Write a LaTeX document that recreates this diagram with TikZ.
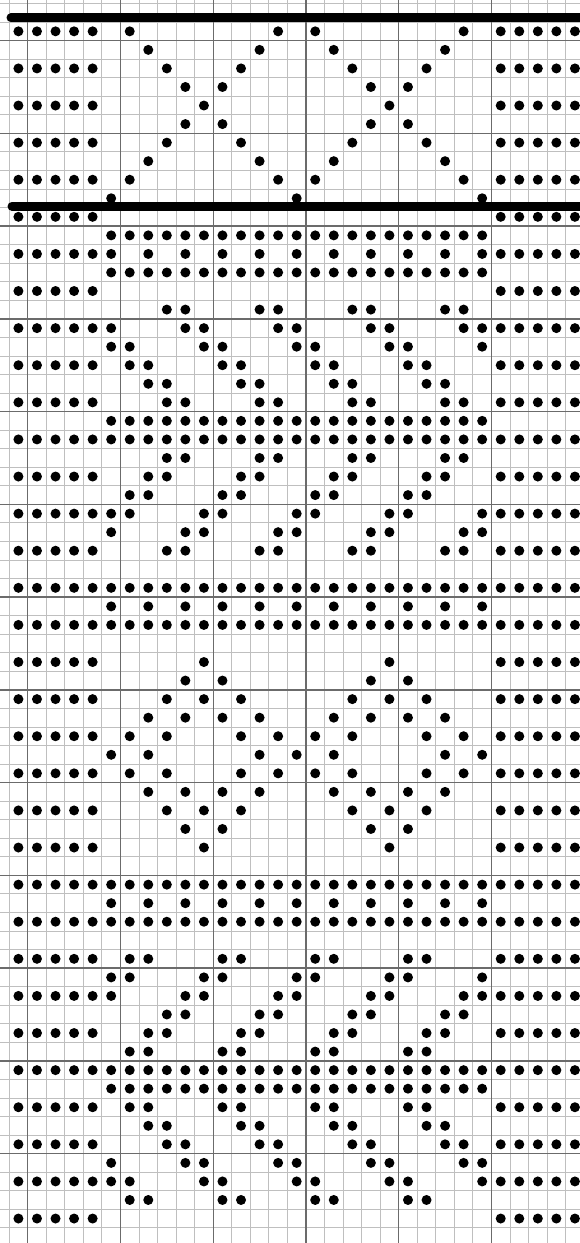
\documentclass[tikz,border=0pt]{standalone}
\begin{document}
\begin{tikzpicture}[x=1pt,y=-1pt]
\tikzset{fine/.style={draw=black!25,line width=0.9pt},
         major/.style={draw=black!58,line width=1.4pt},
         bar/.style={line width=9pt,line cap=round}}
\newcommand\drow[2]{\foreach \c in {#2}{\fill ({9.15+(\c+0.5)*18.55},{3.5+(#1+0.5)*18.55}) circle (5pt);}}
\fill[white] (0,0) rectangle (580,1243);
\useasboundingbox (0,0) rectangle (580,1243);
% fine grid
\foreach \j in {0,...,31}{\draw[fine] ({9.15+\j*18.55},0) -- ({9.15+\j*18.55},1243);}
\foreach \i in {0,...,67}{\draw[fine] (0,{3.5+\i*18.55}) -- (580,{3.5+\i*18.55});}
% major grid
\foreach \k in {0,...,5}{\draw[major] ({27.7+\k*92.75},0) -- ({27.7+\k*92.75},1243);}
\foreach \k in {0,...,12}{\draw[major] (0,{40.6+\k*92.75}) -- (580,{40.6+\k*92.75});}
% side borders
\foreach \r in {1,3,...,65}{\drow{\r}{0,1,2,3,4,26,27,28,29,30}}
% centre
\drow{1}{6,14,16,24}
\drow{2}{7,13,17,23}
\drow{3}{8,12,18,22}
\drow{4}{9,11,19,21}
\drow{5}{10,20}
\drow{6}{9,11,19,21}
\drow{7}{8,12,18,22}
\drow{8}{7,13,17,23}
\drow{9}{6,14,16,24}
\drow{10}{5,15,25}
\drow{12}{5,...,25}
\drow{13}{5,7,...,25}
\drow{14}{5,...,25}
\drow{16}{8,9,13,14,18,19,23,24}
\drow{17}{5,9,10,14,15,19,20,24,25}
\drow{18}{5,6,10,11,15,16,20,21,25}
\drow{19}{6,7,11,12,16,17,21,22}
\drow{20}{7,8,12,13,17,18,22,23}
\drow{21}{8,9,13,14,18,19,23,24}
\drow{22}{5,...,25}
\drow{23}{5,...,25}
\drow{24}{8,9,13,14,18,19,23,24}
\drow{25}{7,8,12,13,17,18,22,23}
\drow{26}{6,7,11,12,16,17,21,22}
\drow{27}{5,6,10,11,15,16,20,21,25}
\drow{28}{5,9,10,14,15,19,20,24,25}
\drow{29}{8,9,13,14,18,19,23,24}
\drow{31}{5,...,25}
\drow{32}{5,7,...,25}
\drow{33}{5,...,25}
\drow{35}{10,20}
\drow{36}{9,11,19,21}
\drow{37}{8,10,12,18,20,22}
\drow{38}{7,9,11,13,17,19,21,23}
\drow{39}{6,8,12,14,16,18,22,24}
\drow{40}{5,7,13,15,17,23,25}
\drow{41}{6,8,12,14,16,18,22,24}
\drow{42}{7,9,11,13,17,19,21,23}
\drow{43}{8,10,12,18,20,22}
\drow{44}{9,11,19,21}
\drow{45}{10,20}
\drow{47}{5,...,25}
\drow{48}{5,7,...,25}
\drow{49}{5,...,25}
\drow{51}{6,7,11,12,16,17,21,22}
\drow{52}{5,6,10,11,15,16,20,21,25}
\drow{53}{5,9,10,14,15,19,20,24,25}
\drow{54}{8,9,13,14,18,19,23,24}
\drow{55}{7,8,12,13,17,18,22,23}
\drow{56}{6,7,11,12,16,17,21,22}
\drow{57}{5,...,25}
\drow{58}{5,...,25}
\drow{59}{6,7,11,12,16,17,21,22}
\drow{60}{7,8,12,13,17,18,22,23}
\drow{61}{8,9,13,14,18,19,23,24}
\drow{62}{5,9,10,14,15,19,20,24,25}
\drow{63}{5,6,10,11,15,16,20,21,25}
\drow{64}{6,7,11,12,16,17,21,22}
% thick bars
\draw[bar] (11,17.9) -- (590,17.9);
\draw[bar] (12,206.2) -- (590,206.2);
\end{tikzpicture}
\end{document}
